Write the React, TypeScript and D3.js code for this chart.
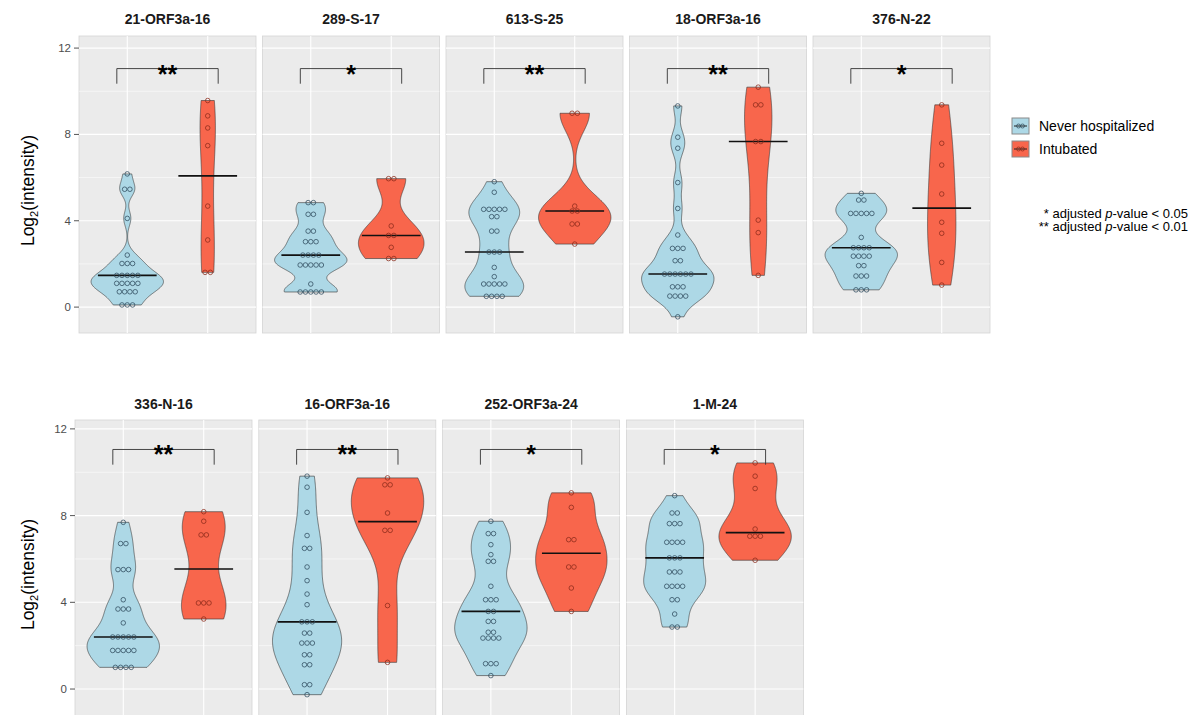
import React from "react";
import * as d3 from "d3";

// ---------- data ----------
const peptides = [
  "21-ORF3a-16", "289-S-17", "613-S-25", "18-ORF3a-16", "376-N-22",
  "336-N-16", "16-ORF3a-16", "252-ORF3a-24", "1-M-24",
];
const groups = ["Never hospitalized", "Intubated"];

const neverHospitalized: number[][] = [
  [6.17, 5.46, 5.46, 4.11, 2.41, 2.02, 2.02, 2.02, 1.47, 1.47, 1.47, 1.47, 1.47, 1.1, 1.1, 1.1, 1.1, 1.1, 0.71, 0.71, 0.71, 0.71, 0.1, 0.1, 0.1],
  [4.84, 4.84, 4.3, 4.3, 3.52, 3.52, 3.03, 3.03, 3.03, 2.41, 2.41, 2.41, 2.41, 1.95, 1.95, 1.95, 1.95, 1.95, 1.07, 0.7, 0.7, 0.7, 0.7, 0.7],
  [5.81, 5.32, 4.53, 4.53, 4.53, 4.53, 4.53, 4.19, 4.19, 3.52, 3.52, 2.55, 2.55, 2.55, 1.84, 1.41, 1.07, 1.07, 1.07, 1.07, 1.07, 0.5, 0.5, 0.5, 0.5],
  [9.32, 7.87, 7.36, 5.77, 4.57, 3.34, 2.72, 2.72, 2.72, 2.15, 2.15, 1.53, 1.53, 1.53, 1.53, 1.53, 1.53, 0.94, 0.94, 0.94, 0.51, 0.51, 0.51, 0.51, -0.45],
  [5.27, 4.96, 4.96, 4.34, 4.34, 4.34, 4.34, 4.34, 3.23, 2.75, 2.75, 2.75, 2.75, 2.36, 2.36, 2.36, 2.36, 1.92, 1.92, 1.44, 1.44, 1.44, 0.8, 0.8, 0.8],
  [7.69, 6.71, 6.71, 5.51, 5.51, 5.51, 4.12, 3.69, 3.69, 3.69, 3.05, 2.4, 2.4, 2.4, 2.4, 2.4, 1.78, 1.78, 1.78, 1.78, 1.78, 1.0, 1.0, 1.0, 1.0],
  [9.82, 9.31, 8.15, 7.08, 6.49, 6.49, 5.63, 5.0, 4.38, 3.89, 3.1, 3.1, 3.1, 2.58, 2.58, 2.12, 2.12, 2.12, 1.58, 1.58, 1.12, 1.12, 0.2, 0.2, -0.26],
  [7.74, 7.17, 7.17, 6.66, 6.2, 5.89, 5.89, 4.74, 4.12, 4.12, 4.12, 3.58, 3.58, 3.12, 3.12, 2.62, 2.62, 2.35, 2.35, 2.35, 2.35, 1.17, 1.17, 1.17, 0.62],
  [8.92, 8.12, 8.12, 7.63, 7.63, 7.63, 6.77, 6.77, 6.77, 6.77, 6.05, 6.05, 6.05, 5.4, 5.4, 5.4, 4.74, 4.74, 4.74, 4.74, 4.12, 4.12, 3.46, 2.86, 2.86],
];

const intubated: number[][] = [
  [9.57, 8.86, 8.3, 7.48, 4.68, 3.11, 1.61, 1.61],
  [5.95, 5.95, 3.76, 3.32, 3.32, 2.77, 2.25, 2.25],
  [8.98, 8.98, 4.68, 4.45, 4.45, 3.85, 3.85, 2.92],
  [10.19, 9.37, 9.37, 7.67, 7.67, 4.03, 3.45, 1.47],
  [9.37, 7.59, 6.58, 5.24, 3.93, 3.42, 2.07, 1.02],
  [8.18, 7.74, 7.11, 7.11, 3.97, 3.97, 3.97, 3.23],
  [9.74, 9.42, 9.42, 8.12, 7.32, 7.32, 3.85, 1.23],
  [9.05, 8.38, 6.89, 6.89, 5.63, 5.63, 4.66, 3.58],
  [10.43, 9.82, 9.25, 7.38, 7.05, 7.05, 7.05, 5.94],
];

const significance = ["**", "*", "**", "**", "*", "**", "**", "*", "*"];
const yTicks = [0, 4, 8, 12];
const yMinorTicks = [2, 6, 10];
const bracketLevel = [11.05, 10.35];

// ---------- styles / layout ----------
const W = 1196;
const H = 715;
const FONT = "'Liberation Sans', Arial, Helvetica, sans-serif";
const fills = ["#add8e6", "#f8664c"];
const dotStroke = ["#2e4a5c", "#8a2a1a"];
const panelW = 177;
const bwAdjust = [0.75, 1];
const rows = [
  { top: 36, bottom: 333, left: 79, step: 183.5, domain: [-1.2, 12.56], titleY: 24 },
  { top: 420, bottom: 717, left: 75, step: 183.8, domain: [-1.29, 12.41], titleY: 409 },
];
const perRow = 5;

function nrd0(x: number[]) {
  const s = d3.deviation(x) || 0;
  const sorted = [...x].sort((a, b) => a - b);
  const iqr = (d3.quantileSorted(sorted, 0.75) || 0) - (d3.quantileSorted(sorted, 0.25) || 0);
  let lo = Math.min(s, iqr / 1.34);
  if (!(lo > 0)) lo = s || Math.abs(x[0]) || 1;
  return 0.9 * lo * Math.pow(x.length, -0.2);
}

function density(x: number[], adjust: number, n = 256) {
  const bw = nrd0(x) * adjust;
  const [mn, mx] = d3.extent(x) as [number, number];
  const pts: { v: number; d: number }[] = [];
  for (let i = 0; i < n; i++) {
    const v = mn + ((mx - mn) * i) / (n - 1);
    let s = 0;
    for (const xi of x) {
      const z = (v - xi) / bw;
      s += Math.exp(-0.5 * z * z);
    }
    pts.push({ v, d: s / (x.length * bw * Math.sqrt(2 * Math.PI)) });
  }
  return pts;
}

function Panel({ idx }: { idx: number }) {
  const r = idx < perRow ? 0 : 1;
  const col = idx < perRow ? idx : idx - perRow;
  const row = rows[r];
  const x0 = row.left + col * row.step;
  const y = d3.scaleLinear().domain(row.domain).range([row.bottom, row.top]);
  const x = d3.scaleLinear().domain([0.4, 2.6]).range([x0, x0 + panelW]);
  const unit = x(2) - x(1);
  const sets = [neverHospitalized[idx], intubated[idx]];
  const dens = sets.map((s, g) => density(s, bwAdjust[g]));
  const maxD = d3.max(dens.flat(), (p) => p.d) || 1;

  const els: React.ReactNode[] = [];
  els.push(
    <rect key="bg" x={x0} y={row.top} width={panelW} height={row.bottom - row.top} fill="#ebebeb" stroke="#d4d4d4" strokeWidth={0.8} />
  );
  yMinorTicks.forEach((t) =>
    els.push(<line key={"mn" + t} x1={x0} x2={x0 + panelW} y1={y(t)} y2={y(t)} stroke="#fff" strokeWidth={0.55} />)
  );
  yTicks.forEach((t) =>
    els.push(<line key={"mj" + t} x1={x0} x2={x0 + panelW} y1={y(t)} y2={y(t)} stroke="#fff" strokeWidth={1.1} />)
  );
  [1, 2].forEach((c) =>
    els.push(<line key={"vx" + c} x1={x(c)} x2={x(c)} y1={row.top} y2={row.bottom} stroke="#fff" strokeWidth={1.1} />)
  );

  sets.forEach((vals, g) => {
    const cx = x(g + 1);
    const area = d3
      .area<{ v: number; d: number }>()
      .y((p) => y(p.v))
      .x0((p) => cx - (p.d / maxD) * 0.45 * unit)
      .x1((p) => cx + (p.d / maxD) * 0.45 * unit);
    els.push(
      <path key={"v" + g} d={area(dens[g]) || ""} fill={fills[g]} stroke="#333" strokeWidth={0.6} />
    );
    const med = d3.median(vals) || 0;
    els.push(
      <line key={"md" + g} x1={cx - 0.365 * unit} x2={cx + 0.365 * unit} y1={y(med)} y2={y(med)} stroke="#111" strokeWidth={1.6} />
    );
    const grouped = d3.group(vals, (v) => v);
    const spacing = 5.3;
    grouped.forEach((arr, v) => {
      const n = arr.length;
      arr.forEach((_, k) => {
        els.push(
          <circle
            key={`p${g}-${v}-${k}`}
            cx={cx + (k - (n - 1) / 2) * spacing}
            cy={y(v)}
            r={2.3}
            fill="none"
            stroke={dotStroke[g]}
            strokeWidth={0.75}
          />
        );
      });
    });
  });

  const bx1 = x(0.87);
  const bx2 = x(2.13);
  const by = y(bracketLevel[0]);
  const byLow = y(bracketLevel[1]);
  els.push(
    <path key="br" d={`M${bx1},${byLow}V${by}H${bx2}V${byLow}`} fill="none" stroke="#333" strokeWidth={0.9} />
  );
  els.push(
    <text key="st" x={(bx1 + bx2) / 2} y={by + 14} textAnchor="middle" fontFamily={FONT} fontWeight="bold" fontSize={25} fill="#000">
      {significance[idx]}
    </text>
  );
  els.push(
    <text key="tt" x={x0 + panelW / 2} y={row.titleY} textAnchor="middle" fontFamily={FONT} fontWeight="bold" fontSize={14} fill="#1a1a1a">
      {peptides[idx]}
    </text>
  );
  if (col === 0) {
    yTicks.forEach((t) => {
      els.push(<line key={"tk" + t} x1={x0 - 5} x2={x0} y1={y(t)} y2={y(t)} stroke="#555" strokeWidth={1} />);
      els.push(
        <text key={"tl" + t} x={x0 - 8} y={y(t)} dy="0.35em" textAnchor="end" fontFamily={FONT} fontSize={11.5} fill="#4d4d4d">
          {t}
        </text>
      );
    });
    const cy = (row.top + row.bottom) / 2 + 6;
    els.push(
      <text key="yt" transform={`translate(34,${cy}) rotate(-90)`} textAnchor="middle" fontFamily={FONT} fontSize={17.5} fill="#000">
        Log
        <tspan fontSize={11} dy={4}>2</tspan>
        <tspan dy={-4}>(intensity)</tspan>
      </text>
    );
  }
  return <g>{els}</g>;
}

function LegendKey({ g, y }: { g: number; y: number }) {
  const kx = 1012;
  return (
    <g>
      <rect x={kx} y={y} width={17} height={16} fill={fills[g]} stroke="#8a8a8a" strokeWidth={1} />
      <line x1={kx + 2} x2={kx + 15} y1={y + 8} y2={y + 8} stroke="#222" strokeWidth={1} />
      <circle cx={kx + 6.5} cy={y + 8} r={2} fill="none" stroke={dotStroke[g]} strokeWidth={0.7} />
      <circle cx={kx + 10.5} cy={y + 8} r={2} fill="none" stroke={dotStroke[g]} strokeWidth={0.7} />
      <text x={1039} y={y + 13} fontFamily={FONT} fontSize={14} fill="#000">
        {groups[g]}
      </text>
    </g>
  );
}

export default function App() {
  return (
    <svg width={W} height={H} style={{ position: "absolute", left: 0, top: 0, background: "#fff" }}>
      <rect x={0} y={0} width={W} height={H} fill="#fff" />
      {peptides.map((_, i) => (
        <Panel key={i} idx={i} />
      ))}
      <LegendKey g={0} y={118} />
      <LegendKey g={1} y={141} />
      <text x={1188} y={218} textAnchor="end" fontFamily={FONT} fontSize={13} fill="#000">
        * adjusted <tspan fontStyle="italic">p</tspan>-value &lt; 0.05
      </text>
      <text x={1188} y={231} textAnchor="end" fontFamily={FONT} fontSize={13} fill="#000">
        ** adjusted <tspan fontStyle="italic">p</tspan>-value &lt; 0.01
      </text>
    </svg>
  );
}
